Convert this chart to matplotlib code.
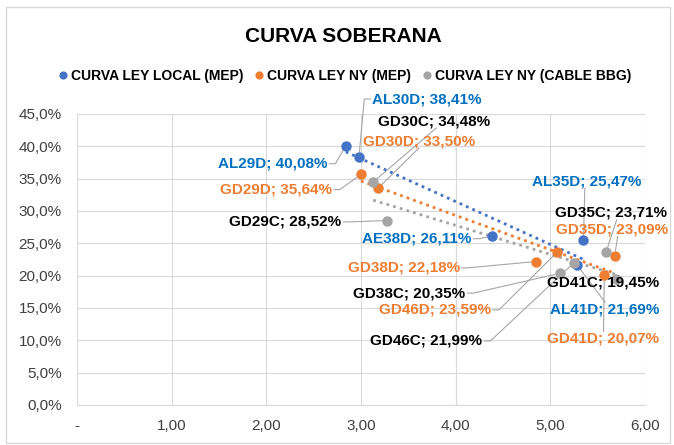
import numpy as np
import matplotlib
matplotlib.use("Agg")
import matplotlib.pyplot as plt
from matplotlib.patches import Rectangle

# Datos (duration, TIR %)
local_nombres = ["AL29D", "AL30D", "AE38D", "AL35D", "AL41D"]
local_x = [2.84, 2.98, 4.38, 5.35, 5.28]
local_y = [40.08, 38.41, 26.11, 25.47, 21.69]

ny_nombres = ["GD29D", "GD30D", "GD38D", "GD46D", "GD35D", "GD41D"]
ny_x = [3.00, 3.18, 4.85, 5.07, 5.68, 5.57]
ny_y = [35.64, 33.50, 22.18, 23.59, 23.09, 20.07]

cable_nombres = ["GD29C", "GD30C", "GD38C", "GD46C", "GD35C", "GD41C"]
cable_x = [3.28, 3.13, 5.10, 5.25, 5.59, 5.69]
cable_y = [28.52, 34.48, 20.35, 21.99, 23.71, 19.45]

x_ticks = [0, 1, 2, 3, 4, 5, 6]
x_tick_labels = ["-", "1,00", "2,00", "3,00", "4,00", "5,00", "6,00"]
y_ticks = [0, 5, 10, 15, 20, 25, 30, 35, 40, 45]

# etiquetas: (x borde izq., y centro) en unidades de datos + lado de la linea guia
pos_local = {"AL29D": (1.49, 37.3, "R", 0), "AL30D": (3.12, 47.3, "L", 0),
             "AE38D": (3.01, 25.7, "R", 0), "AL35D": (4.81, 34.6, "B", 0.48),
             "AL41D": (5.00, 14.8, "T", 0.5)}
pos_ny = {"GD29D": (1.51, 33.3, "R", 0), "GD30D": (3.02, 40.8, "B", 0.5),
          "GD38D": (2.86, 21.2, "R", 0), "GD46D": (3.19, 14.7, "R", 0),
          "GD35D": (5.06, 27.1, "B", 0.55), "GD41D": (4.97, 10.3, "T", 0.5)}
pos_cable = {"GD29C": (1.61, 28.3, "R", 0), "GD30C": (3.18, 43.9, "B", 0.52),
             "GD38C": (2.92, 17.3, "R", 0), "GD46C": (3.10, 9.9, "R", 0),
             "GD35C": (5.05, 29.7, "B", 0.55), "GD41C": (4.97, 18.9, None, 0)}

AZUL = "#4472C4"
NARANJA = "#ED7D31"
GRIS = "#A5A5A5"
GUIA = "#A6A6A6"

plt.rcParams["font.family"] = ["Liberation Sans", "DejaVu Sans"]

fig = plt.figure(figsize=(6.74, 4.45), dpi=100)
ax = fig.add_axes([0.114, 0.090, 0.843, 0.654])

fig.patches.append(Rectangle((0.009, 0.004), 0.985, 0.98, transform=fig.transFigure,
                             fill=False, edgecolor="#D9D9D9", linewidth=1))


def fmt(v):
    return f"{v:.2f}%".replace(".", ",")


series = [
    (local_nombres, local_x, local_y, AZUL, "#0070C0", pos_local, "CURVA LEY LOCAL (MEP)"),
    (ny_nombres, ny_x, ny_y, NARANJA, NARANJA, pos_ny, "CURVA LEY NY (MEP)"),
    (cable_nombres, cable_x, cable_y, GRIS, "black", pos_cable, "CURVA LEY NY (CABLE BBG)"),
]

etiquetas = []
for nombres, xs, ys, color, color_txt, posiciones, etiqueta in series:
    ax.plot(xs, ys, "o", color=color, markersize=6.5, label=etiqueta, zorder=4)
    # linea de tendencia lineal
    a, b = np.polyfit(xs, ys, 1)
    xt = np.array([min(xs), max(xs)])
    ax.plot(xt, a * xt + b, color=color, linewidth=2, linestyle=(0, (1, 1.5)), zorder=3)
    for n, x, y in zip(nombres, xs, ys):
        tx, ty, lado, frac = posiciones[n]
        t = ax.text(tx, ty, f"{n}; {fmt(y)}", ha="left", va="center", fontsize=11,
                    fontweight="bold", color=color_txt, zorder=5, clip_on=False)
        etiquetas.append((t, x, y, lado, frac))

ax.set_xlim(0, 6)
ax.set_ylim(0, 45)
ax.set_xticks(x_ticks)
ax.set_xticklabels(x_tick_labels)
ax.set_yticks(y_ticks)
ax.set_yticklabels([f"{v:.1f}%".replace(".", ",") for v in y_ticks])
ax.tick_params(length=0, labelsize=11, colors="#404040")
ax.tick_params(axis="y", pad=11)
ax.tick_params(axis="x", pad=10)
ax.grid(True, color="#D9D9D9", linewidth=0.8)
ax.set_axisbelow(True)
for s in ["top", "right", "left"]:
    ax.spines[s].set_visible(False)
ax.spines["bottom"].set_color("#D9D9D9")

fig.text(0.51, 0.917, "CURVA SOBERANA", ha="center", va="center", fontsize=15, fontweight="bold")
fig.legend(loc="center", bbox_to_anchor=(0.51, 0.829), ncol=3, frameon=False,
           prop={"weight": "bold", "size": 10}, handletextpad=0.1, columnspacing=0.6,
           markerscale=0.75, handlelength=1.0)

# lineas guia estilo Excel (tramo corto horizontal + recta hasta el punto)
fig.canvas.draw()
inv = ax.transData.inverted()
for t, x, y, lado, frac in etiquetas:
    if lado is None:
        continue
    bb = t.get_window_extent()
    px, py = ax.transData.transform((x, y))
    ym = (bb.y0 + bb.y1) / 2
    if lado == "R":
        pts = [(bb.x1 + 2, ym), (bb.x1 + 8, ym)]
    elif lado == "L":
        pts = [(bb.x0 - 2, ym), (bb.x0 - 8, ym)]
    elif lado == "B":
        pts = [(bb.x0 + frac * bb.width, bb.y0)]
    else:
        pts = [(bb.x0 + frac * bb.width, bb.y1)]
    ux, uy = pts[-1]
    d = np.hypot(px - ux, py - uy)
    pts.append((px - (px - ux) * 5 / d, py - (py - uy) * 5 / d))
    datos = inv.transform(pts)
    ax.plot(datos[:, 0], datos[:, 1], color=GUIA, lw=0.8, zorder=2, clip_on=False)

fig.savefig("out.png", dpi=100)
